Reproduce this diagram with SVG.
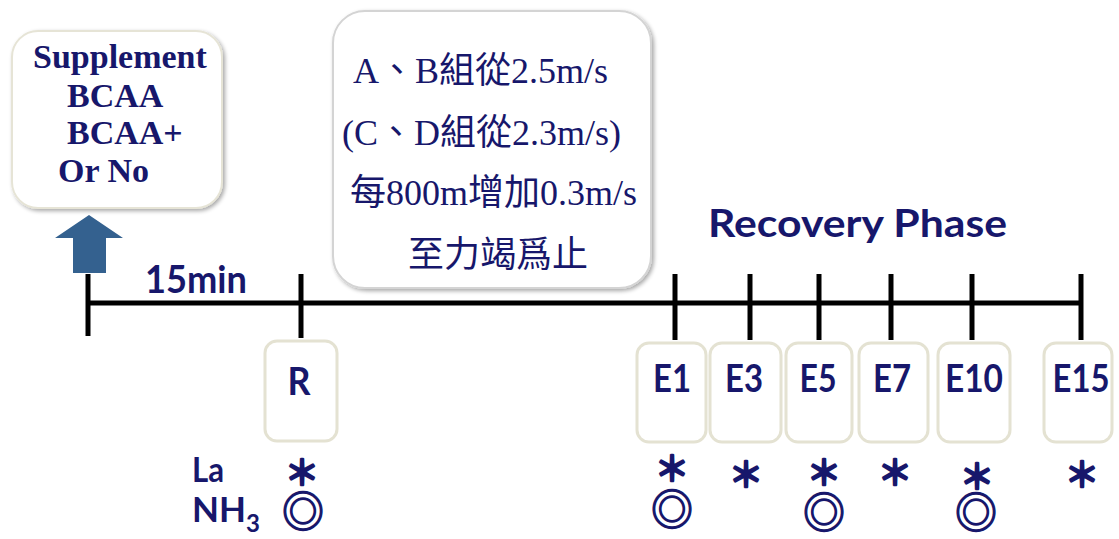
<svg xmlns="http://www.w3.org/2000/svg" width="1119" height="539" viewBox="0 0 1119 539">
<style>
.t{fill:#17176b}
.serifb{font-family:"Liberation Serif","Times New Roman",serif;font-weight:bold;font-size:34px}
.cjk{font-family:"Liberation Serif","Noto Sans CJK TC",serif;font-size:36px}
.sans{font-family:Lato,"Liberation Sans",sans-serif;font-weight:bold}
.lbl{font-size:39px;text-anchor:middle}
.sym{font-family:"Noto Sans CJK TC","Noto Sans CJK SC",sans-serif;text-anchor:middle;stroke:#17176b;stroke-linejoin:round}
.ast{font-size:34px;stroke-width:2.6}
.dc{font-size:42px;stroke-width:1.3}
.sbox{fill:#fff;stroke:#e4e2d2;stroke-width:3}
.line{stroke:#000;stroke-width:5;fill:none}
</style>
<defs>
<filter id="sh" x="-10%" y="-10%" width="130%" height="130%">
<feGaussianBlur in="SourceAlpha" stdDeviation="2"/>
<feOffset dx="2" dy="2" result="b"/>
<feComponentTransfer><feFuncA type="linear" slope="0.35"/></feComponentTransfer>
<feMerge><feMergeNode/><feMergeNode in="SourceGraphic"/></feMerge>
</filter>
</defs>

<g id="connectors">
<line class="line" x1="86" y1="303" x2="1083" y2="303"/>
<line class="line" x1="88" y1="274" x2="88" y2="336"/>
<line class="line" x1="301" y1="274" x2="301" y2="338"/>
<line class="line" x1="675" y1="274" x2="675" y2="340"/>
<line class="line" x1="750" y1="274" x2="750" y2="340"/>
<line class="line" x1="819" y1="274" x2="819" y2="340"/>
<line class="line" x1="891" y1="274" x2="891" y2="340"/>
<line class="line" x1="972" y1="274" x2="972" y2="340"/>
<line class="line" x1="1081" y1="274" x2="1081" y2="340"/>
<polygon id="arrow" points="89,215 123,238 106,238 106,273 73,273 73,238 55,238" fill="#34618f"/>
</g>

<g id="supplement">
<rect x="12" y="31" width="210" height="177" rx="26" fill="#fff" stroke="#e6e4d6" stroke-width="2" filter="url(#sh)"/>
<text class="t serifb" x="33" y="68">Supplement</text>
<text class="t serifb" x="67" y="107">BCAA</text>
<text class="t serifb" x="67" y="144">BCAA+</text>
<text class="t serifb" x="58" y="182">Or No</text>
</g>

<g id="protocol">
<rect x="333" y="11" width="318" height="277" rx="32" fill="#fff" stroke="#d4d4d4" stroke-width="2" filter="url(#sh)"/>
<text class="t cjk" x="353" y="83">A、B組從2.5m/s</text>
<text class="t cjk" x="342" y="145">(C、D組從2.3m/s)</text>
<text class="t cjk" x="350" y="205">每800m增加0.3m/s</text>
<text class="t cjk" x="408" y="267">至力竭爲止</text>
</g>

<text id="time15" class="t sans" x="145" y="293" font-size="38" textLength="102" lengthAdjust="spacingAndGlyphs">15min</text>
<text id="recovery" class="t sans" x="708" y="237" font-size="38" textLength="299" lengthAdjust="spacingAndGlyphs">Recovery Phase</text>

<g id="R">
<rect class="sbox" x="265" y="341" width="72" height="100" rx="12"/>
<text class="t sans lbl" x="299" y="395" textLength="23" lengthAdjust="spacingAndGlyphs">R</text>
</g>
<g id="E1">
<rect class="sbox" x="637" y="343" width="69" height="99" rx="12"/>
<text class="t sans lbl" x="672" y="392" textLength="38" lengthAdjust="spacingAndGlyphs">E1</text>
</g>
<g id="E3">
<rect class="sbox" x="710" y="343" width="71" height="99" rx="12"/>
<text class="t sans lbl" x="744" y="392" textLength="38" lengthAdjust="spacingAndGlyphs">E3</text>
</g>
<g id="E5">
<rect class="sbox" x="786" y="343" width="66" height="99" rx="12"/>
<text class="t sans lbl" x="818" y="392" textLength="37" lengthAdjust="spacingAndGlyphs">E5</text>
</g>
<g id="E7">
<rect class="sbox" x="859" y="343" width="69" height="99" rx="12"/>
<text class="t sans lbl" x="892" y="392" textLength="38" lengthAdjust="spacingAndGlyphs">E7</text>
</g>
<g id="E10">
<rect class="sbox" x="938" y="343" width="72" height="99" rx="12"/>
<text class="t sans lbl" x="974" y="392" textLength="58" lengthAdjust="spacingAndGlyphs">E10</text>
</g>
<g id="E15">
<rect class="sbox" x="1044" y="343" width="68" height="99" rx="12"/>
<text class="t sans lbl" x="1081" y="392" textLength="57" lengthAdjust="spacingAndGlyphs">E15</text>
</g>

<g id="legend">
<text class="t sans" x="192" y="482" font-size="35" textLength="32" lengthAdjust="spacingAndGlyphs">La</text>
<text class="t sans" x="192" y="522" font-size="35">NH<tspan font-size="24" dy="10">3</tspan></text>
</g>

<g id="markers">
<text class="t sym"><tspan class="ast" x="302" y="485">＊</tspan><tspan class="dc" x="303" y="527">◎</tspan></text>
<text class="t sym"><tspan class="ast" x="672" y="481">＊</tspan><tspan class="dc" x="672" y="525">◎</tspan></text>
<text class="t sym ast" x="746" y="487">＊</text>
<text class="t sym"><tspan class="ast" x="824" y="485">＊</tspan><tspan class="dc" x="824" y="528">◎</tspan></text>
<text class="t sym ast" x="895" y="485">＊</text>
<text class="t sym"><tspan class="ast" x="977" y="489">＊</tspan><tspan class="dc" x="976" y="528">◎</tspan></text>
<text class="t sym ast" x="1082" y="487">＊</text>
</g>
</svg>
